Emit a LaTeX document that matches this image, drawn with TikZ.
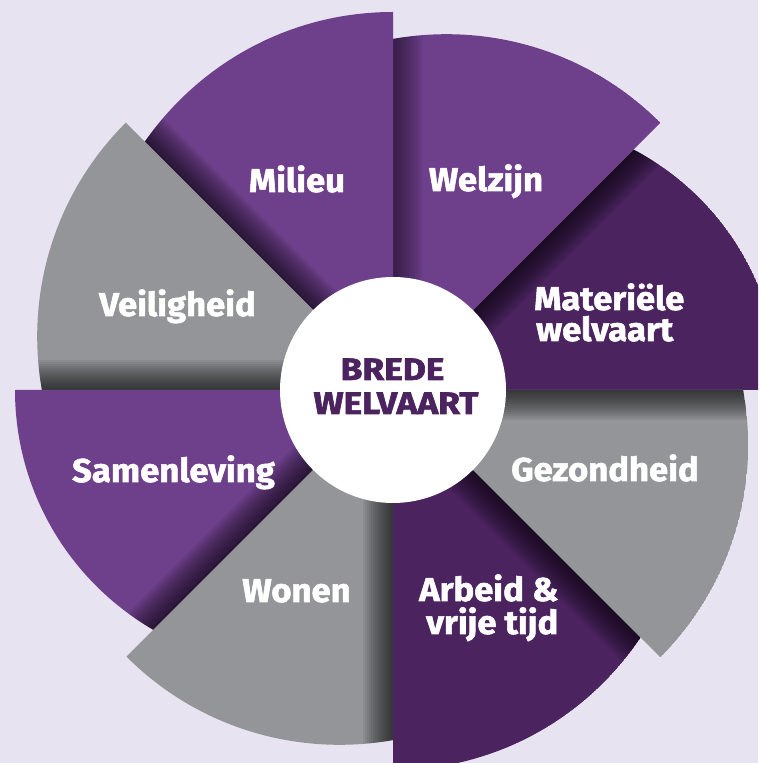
\documentclass[tikz,border=0pt]{standalone}
\usepackage{fontspec}
\setmainfont{Fira Sans}
\newfontfamily\labfont{Fira Sans}[FakeStretch=1.05,BoldFeatures={FakeBold=1.6}]
\newfontfamily\ctrfont{Fira Sans}[FakeStretch=1.14,BoldFeatures={FakeBold=2}]
\definecolor{bgc}{RGB}{232,227,240}
\definecolor{lightp}{RGB}{110,64,139}
\definecolor{darkp}{RGB}{74,35,95}
\definecolor{grayc}{RGB}{147,149,152}
\newcommand\Sector[5]{%
 \pgfmathsetmacro\ra{#3/100}%
 \pgfmathsetmacro\rb{#4/100}%
 \pgfmathsetmacro\dd{100*(\rb*\rb-\ra*\ra)/(2*(\rb-\ra*cos(45)))}%
 \pgfmathsetmacro\RR{#4-\dd}%
 \begin{scope}[shift={(C)},rotate=#1]
  \clip (0,0) -- (600,0) -- (22.5:650) -- (45:600) -- cycle;
  \clip (\dd,0) circle[radius=\RR];
  \fill[#2] (\dd,0) circle[radius=\RR];
  \begin{scope}[rotate=45]
   \foreach \i in {1,...,15} {\fill[black,opacity=#5] (0,0) rectangle (700,-2*\i);}
  \end{scope}
 \end{scope}}
\tikzset{
 lab/.style={text=white,font=\labfont\fontsize{33}{36}\selectfont\bfseries,inner sep=0pt,anchor=base},
 ctr/.style={text=darkp,font=\ctrfont\fontsize{31}{34}\selectfont\bfseries,inner sep=0pt,anchor=base}}
\begin{document}
\begin{tikzpicture}[x=1pt,y=1pt]
\useasboundingbox (0,0) rectangle (758,763);
\fill[bgc] (0,0) rectangle (758,763);
\coordinate (C) at (393,373);
\begin{scope}
 \clip (0,0) rectangle (758,763);
 \Sector{0}{darkp}{340}{386}{0.055}
 \Sector{45}{lightp}{351}{378}{0.04}
 \Sector{90}{lightp}{351}{378}{0.055}
 \Sector{135}{grayc}{351}{378}{0.06}
 \Sector{180}{lightp}{339}{378}{0.055}
 \Sector{225}{grayc}{350}{377}{0.06}
 \Sector{270}{darkp}{350}{380}{0.055}
 \Sector{315}{grayc}{350}{378}{0.06}
\end{scope}
\fill[white] (C) circle[radius=113];
\node[lab] (milieu) at (297,571) {Milieu};
\node[lab] (welzijn) at (486,572) {Welzijn};
\node[lab,anchor=base west] (mat1) at (534,453) {Materiële};
\node[lab,anchor=base west] (mat2) at (536,422) {welvaart};
\node[lab] (veil) at (177.5,447) {Veiligheid};
\node[lab] (samen) at (173.5,281) {Samenleving};
\node[lab] (wonen) at (296.5,161) {Wonen};
\node[lab] (gez) at (605,282) {Gezondheid};
\node[lab,anchor=base west] (arb1) at (419,162) {Arbeid \&};
\node[lab,anchor=base west] (arb2) at (426,129) {vrije tijd};
\node[ctr] (brede) at (392.5,383) {BREDE};
\node[ctr] (welv) at (396,349) {WELVAART};
\end{tikzpicture}
\end{document}
